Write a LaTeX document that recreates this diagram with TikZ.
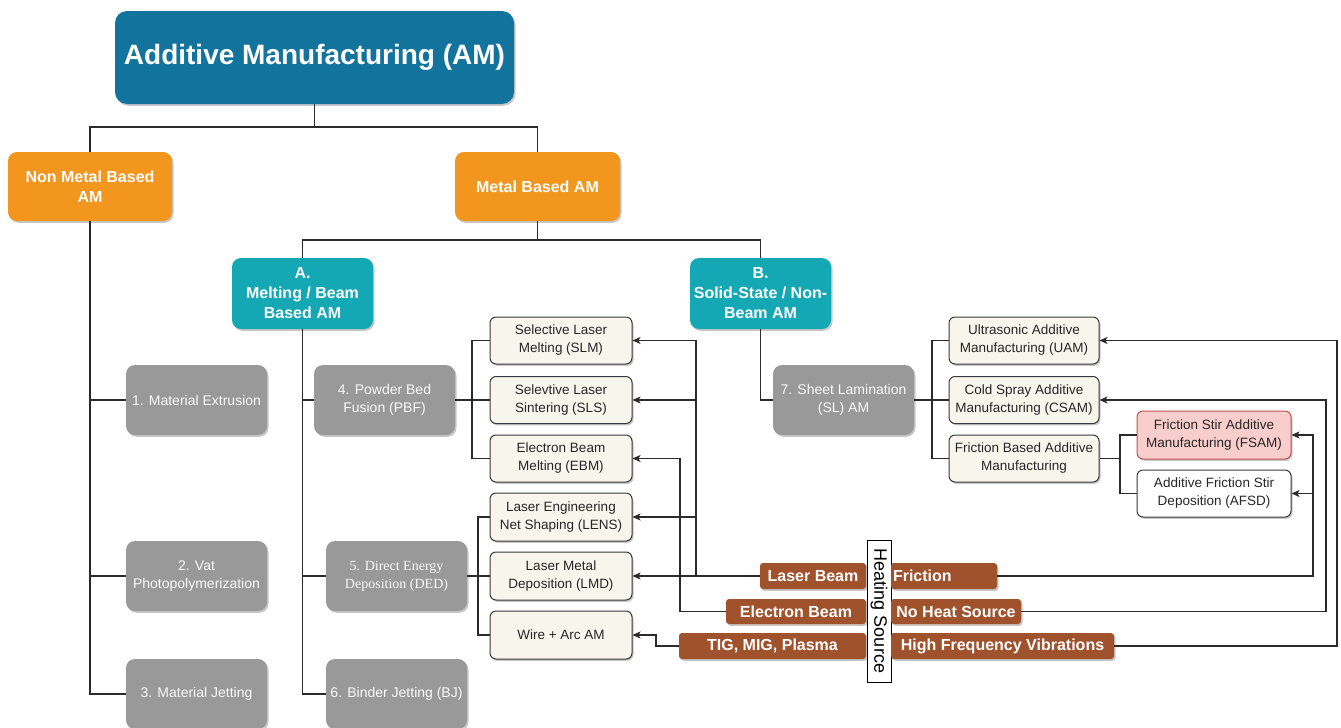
\documentclass[tikz,border=0pt]{standalone}
\usepackage{fontspec}
\setmainfont{Liberation Sans}
\newfontfamily\serifded{Liberation Serif}
\usetikzlibrary{arrows.meta,shadows}
\definecolor{amblue}{HTML}{12739D}
\definecolor{amorange}{HTML}{F2961E}
\definecolor{amteal}{HTML}{14A8B5}
\definecolor{amgray}{HTML}{999999}
\definecolor{amcream}{HTML}{F8F5EC}
\definecolor{amcreamline}{HTML}{36393D}
\definecolor{ampink}{HTML}{F8CECC}
\definecolor{ampinkline}{HTML}{B85450}
\definecolor{ambrown}{HTML}{A0522D}
\definecolor{amline}{HTML}{2B2B2B}
\begin{document}
\begin{tikzpicture}[x=1pt,y=-1pt,
  shad/.style={drop shadow={shadow xshift=1.5pt,shadow yshift=-1.8pt,fill=black,opacity=0.22}},
  basebox/.style={shad,rounded corners=9pt,align=center,inner sep=0pt},
  titlebox/.style={basebox,fill=amblue,text=white,font=\bfseries\fontsize{28}{32}\selectfont,rounded corners=12pt},
  orangebox/.style={basebox,fill=amorange,text=white,font=\bfseries\fontsize{16}{20}\selectfont},
  tealbox/.style={basebox,fill=amteal,text=white,font=\bfseries\fontsize{16}{20}\selectfont},
  graybox/.style={basebox,fill=amgray,text=white!95!gray,font=\fontsize{14}{17.5}\selectfont,minimum width=141pt,minimum height=70pt},
  creambox/.style={basebox,rounded corners=6pt,fill=amcream,draw=amcreamline,line width=1pt,text=black!85,font=\fontsize{13.5}{18}\selectfont,minimum height=47pt},
  brownlabel/.style={shad,rounded corners=3pt,fill=ambrown,text=white,font=\bfseries\fontsize{16}{19}\selectfont,inner sep=0pt,minimum height=26pt},
  conn/.style={draw=amline,line width=1.2pt},
  arr/.style={conn,-{Stealth[length=8pt,width=7pt,inset=2pt]}}
]
\useasboundingbox (0,0) rectangle (1341,728);

% ---------- main nodes ----------
\node[titlebox,minimum width=399pt,minimum height=93pt] (am) at (314.5,57.5) {Additive Manufacturing (AM)};
\node[orangebox,minimum width=164pt,minimum height=69pt] (nm) at (90,186.5) {Non Metal Based\\AM};
\node[orangebox,minimum width=165pt,minimum height=69pt] (mb) at (537.5,186.5) {Metal Based AM};
\node[tealbox,minimum width=141pt,minimum height=71pt] (ma) at (302.5,293.5) {A.\\Melting / Beam\\Based AM};
\node[tealbox,minimum width=141pt,minimum height=71pt] (mbb) at (760.5,293.5) {B.\\Solid-State / Non-\\Beam AM};

\node[graybox] (me) at (196.5,400) {1. Material Extrusion};
\node[graybox] (vat) at (196.5,576) {2. Vat\\Photopolymerization};
\node[graybox] (mj) at (196.5,694) {3. Material Jetting};
\node[graybox] (pbf) at (384.5,400) {4. Powder Bed\\Fusion (PBF)};
\node[graybox,font=\serifded\fontsize{14}{18}\selectfont] (ded) at (396.5,576) {5. Direct Energy\\Deposition (DED)};
\node[graybox] (bj) at (396.5,694) {6. Binder Jetting (BJ)};
\node[graybox] (sl) at (843.5,400) {7. Sheet Lamination\\(SL) AM};

\node[creambox,minimum width=142pt] (slm) at (561,340.5) {Selective Laser\\Melting (SLM)};
\node[creambox,minimum width=142pt] (sls) at (561,400) {Selevtive Laser\\Sintering (SLS)};
\node[creambox,minimum width=142pt] (ebm) at (561,458.5) {Electron Beam\\Melting (EBM)};
\node[creambox,minimum width=142pt,minimum height=48pt] (lens) at (561,517) {Laser Engineering\\Net Shaping (LENS)};
\node[creambox,minimum width=142pt,minimum height=48pt] (lmd) at (561,576) {Laser Metal\\Deposition (LMD)};
\node[creambox,minimum width=142pt,minimum height=48pt] (wire) at (561,635) {Wire + Arc AM};

\node[creambox,minimum width=150pt] (uam) at (1024,340.5) {Ultrasonic Additive\\Manufacturing (UAM)};
\node[creambox,minimum width=150pt] (csam) at (1024,400) {Cold Spray Additive\\Manufacturing (CSAM)};
\node[creambox,minimum width=150pt] (fbam) at (1024,458.5) {Friction Based Additive\\Manufacturing};
\node[creambox,minimum width=154pt,minimum height=48pt,fill=ampink,draw=ampinkline] (fsam) at (1214,435) {Friction Stir Additive\\Manufacturing (FSAM)};
\node[creambox,minimum width=154pt,fill=white] (afsd) at (1214,493.5) {Additive Friction Stir\\Deposition (AFSD)};

% ---------- heating source ----------
\node[draw=black,line width=1pt,fill=white,rotate=-90,minimum width=142pt,minimum height=24pt,inner sep=0pt,font=\fontsize{18}{20}\selectfont] (hs) at (879,611) {Heating Source};
\node[brownlabel,minimum width=106pt] (lb) at (813,576) {Laser Beam};
\node[brownlabel,minimum width=106pt,text width=102pt,align=left] (fr) at (944,576) {Friction};
\node[brownlabel,minimum width=140pt,minimum height=25pt] (eb) at (796,611.5) {Electron Beam};
\node[brownlabel,minimum width=130pt,minimum height=25pt] (nh) at (956,611.5) {No Heat Source};
\node[brownlabel,minimum width=187pt] (tig) at (772.5,646) {TIG, MIG, Plasma};
\node[brownlabel,minimum width=223pt] (hfv) at (1002.5,646) {High Frequency Vibrations};

% ---------- junction coordinates ----------
\coordinate (j0) at (314.5,127);
\coordinate (j1) at (537.5,240);
\coordinate (pj) at (472,400);
\coordinate (dj) at (478,576);
\coordinate (sj) at (932,400);
\coordinate (fj) at (1120,458.5);
\coordinate (lbj) at (696,576);
\coordinate (ebk) at (680,611.5);
\coordinate (tk) at (656,646);
\coordinate (frk) at (1313,576);
\coordinate (nhk) at (1326,611.5);
\coordinate (hfk) at (1337,646);

% ---------- tree connectors ----------
\draw[conn] (am.south) -- (j0) -| (nm.north);
\draw[conn] (j0) -| (mb.north);
\draw[conn] (nm.south) |- (me.west);
\draw[conn] (nm.south) |- (vat.west);
\draw[conn] (nm.south) |- (mj.west);
\draw[conn] (mb.south) -- (j1) -| (ma.north);
\draw[conn] (j1) -| (mbb.north);
\draw[conn] (ma.south) |- (pbf.west);
\draw[conn] (ma.south) |- (ded.west);
\draw[conn] (ma.south) |- (bj.west);
\draw[conn] (mbb.south) |- (sl.west);

\draw[conn] (pbf.east) -- (pj) -- (sls.west);
\draw[conn] (slm.west) -| (pj) |- (ebm.west);
\draw[conn] (ded.east) -- (dj) -- (lmd.west);
\draw[conn] (lens.west) -| (dj) |- (wire.west);
\draw[conn] (sl.east) -- (sj) -- (csam.west);
\draw[conn] (uam.west) -| (sj) |- (fbam.west);
\draw[conn] (fbam.east) -- (fj);
\draw[conn] (fsam.west) -| (fj) |- (afsd.west);

% ---------- heating source arrows ----------
\draw[arr] (lb.west) -- (lmd.east);
\draw[arr] (lbj) |- (lens.east);
\draw[arr] (lbj) |- (sls.east);
\draw[arr] (lbj) |- (slm.east);
\draw[arr] (eb.west) -- (ebk) |- (ebm.east);
\draw[arr] (tig.west) -- (tk) |- (wire.east);
\draw[arr] (fr.east) -- (frk) |- (fsam.east);
\draw[arr] (frk) |- (afsd.east);
\draw[arr] (nh.east) -- (nhk) |- (csam.east);
\draw[arr] (hfv.east) -- (hfk) |- (uam.east);
\end{tikzpicture}
\end{document}
